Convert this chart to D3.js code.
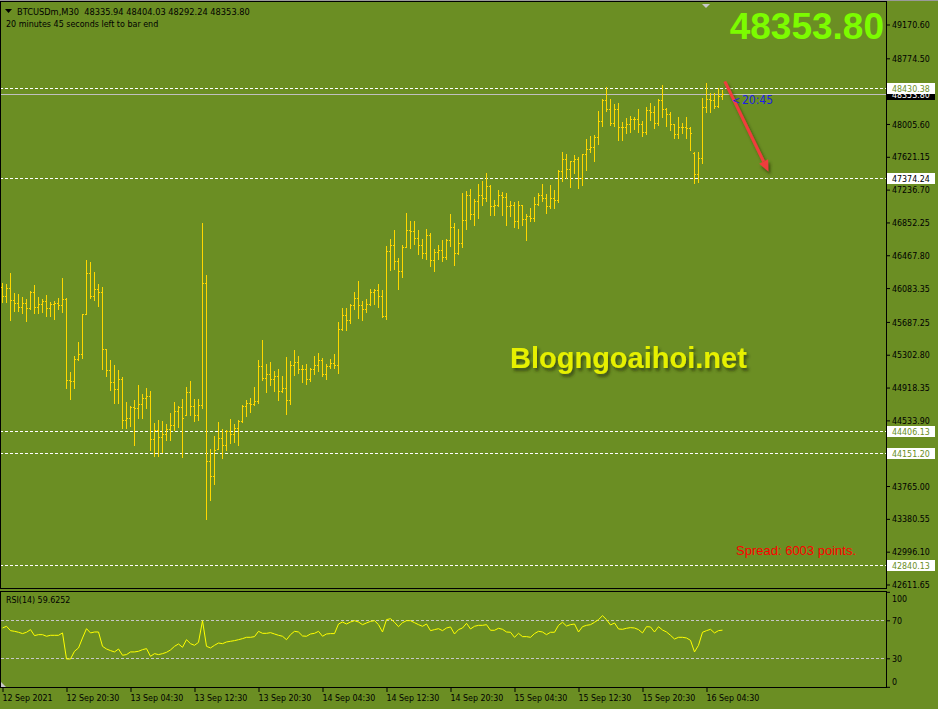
<!DOCTYPE html>
<html>
<head>
<meta charset="utf-8">
<script src="https://cdn.jsdelivr.net/npm/d3@7"></script>
<style>
    body { margin: 0; background: #6b8e23; }
    svg text { font-family: "DejaVu Sans Condensed", "DejaVu Sans", sans-serif; }
</style>
</head>
<body>
<div id="chart"></div>
<script>
// BTCUSDm, M30 - one entry per bar, oldest first (last bar is still open)
var opens = [46100, 45988, 46081, 45941, 45914, 45867, 45906, 45851, 46035, 45867,
    45894, 45929, 45847, 45902, 45906, 45883, 45953, 45005, 44993, 45251,
    45317, 45777, 46257, 45996, 46078, 46035, 45372, 45126, 44982, 44904,
    45017, 44537, 44560, 44685, 44674, 44724, 44794, 44822, 44315, 44424,
    44338, 44373, 44432, 44479, 44642, 44685, 44600, 44861, 44705, 44596,
    44713, 46140, 44057, 43882, 44198, 44323, 44241, 44404, 44377, 44443,
    44529, 44701, 44736, 44724, 44759, 45173, 45028, 45075, 45017, 45052,
    44880, 44911, 44771, 45177, 45223, 45134, 45134, 45021, 45138, 45181,
    45240, 45080, 45165, 45204, 45181, 45602, 45770, 45708, 45891, 45965,
    45883, 45836, 45895, 46035, 46059, 45988, 45758, 46519, 46585, 46402,
    46281, 46566, 46761, 46749, 46667, 46585, 46492, 46702, 46410, 46503,
    46527, 46445, 46644, 46796, 46495, 46609, 46883, 47172, 46949, 47101,
    47172, 47144, 47281, 47043, 47062, 47179, 47152, 47047, 47055, 46864,
    47055, 46891, 46930, 46910, 47066, 47172, 47140, 47043, 47140, 47117,
    47456, 47593, 47480, 47573, 47593, 47370, 47651, 47709, 47737, 47850,
    48045, 48290, 48177, 48014, 48177, 47967, 47967, 48010, 48068, 48068,
    48002, 47908, 48166, 48146, 48014, 48287, 48177, 48119, 48002, 47889,
    47975, 47975, 47955, 47660, 47417, 47604, 48201, 48294, 48287, 48220,
    48335.94];
var highs = [46140, 46128, 46257, 46023, 46011, 45976, 45953, 46050, 46117, 45976,
    45953, 46000, 45918, 45929, 45964, 46198, 45964, 45099, 45286, 45450,
    45777, 46409, 46386, 46273, 46132, 46093, 45372, 45243, 45184, 45126,
    45044, 44752, 44701, 44775, 44950, 44845, 44915, 44880, 44502, 44541,
    44529, 44494, 44623, 44752, 44697, 44783, 44927, 44997, 44787, 44787,
    46842, 46234, 44202, 44354, 44518, 44436, 44424, 44553, 44494, 44541,
    44716, 44775, 44798, 44927, 45243, 45477, 45196, 45220, 45110, 45138,
    45056, 45278, 45231, 45360, 45290, 45185, 45197, 45150, 45290, 45325,
    45267, 45197, 45255, 45314, 45688, 45852, 45852, 45899, 46039, 46168,
    45934, 45957, 46078, 46078, 46133, 46063, 46577, 46659, 46764, 46437,
    46589, 46963, 46870, 46870, 46764, 46659, 46776, 46729, 46542, 46589,
    46648, 46659, 46952, 46846, 46776, 47199, 47222, 47246, 47129, 47304,
    47339, 47433, 47292, 47117, 47234, 47211, 47199, 47105, 47094, 47105,
    47062, 46953, 47023, 47152, 47199, 47304, 47187, 47292, 47234, 47468,
    47679, 47655, 47577, 47643, 47620, 47655, 47830, 47865, 47877, 48162,
    48298, 48435, 48298, 48240, 48255, 48033, 48080, 48099, 48092, 48177,
    48045, 48201, 48251, 48220, 48298, 48462, 48189, 48150, 48006, 48088,
    48014, 48088, 47971, 47674, 47674, 48314, 48482, 48365, 48365, 48431,
    48404.03];
var lows = [45925, 45925, 45711, 45820, 45820, 45797, 45703, 45836, 45797, 45797,
    45801, 45762, 45762, 45727, 45844, 45808, 44908, 44779, 44908, 45239,
    45259, 45777, 45972, 45945, 45879, 45130, 45048, 44884, 44732, 44736,
    44440, 44440, 44471, 44241, 44557, 44557, 44674, 44190, 44112, 44112,
    44167, 44307, 44299, 44424, 44451, 44100, 44600, 44600, 44521, 44533,
    44674, 43375, 43597, 43784, 44198, 44092, 44182, 44268, 44276, 44248,
    44514, 44580, 44627, 44709, 44732, 45009, 44872, 44943, 44880, 44767,
    44872, 44603, 44720, 45071, 45087, 44978, 44959, 44990, 45072, 45115,
    45048, 45017, 45146, 45142, 45084, 45587, 45587, 45680, 45844, 45735,
    45715, 45809, 45887, 45895, 45860, 45739, 45727, 46300, 46312, 46078,
    46218, 46562, 46554, 46605, 46488, 46437, 46421, 46347, 46289, 46429,
    46406, 46429, 46581, 46359, 46480, 46567, 46770, 46887, 46828, 46910,
    47062, 47105, 46945, 46945, 47039, 46934, 46817, 46922, 46793, 46782,
    46828, 46641, 46864, 46864, 47062, 47109, 46957, 47016, 47016, 47086,
    47343, 47378, 47273, 47437, 47250, 47285, 47467, 47682, 47573, 47772,
    47982, 48162, 47994, 47986, 47815, 47815, 47900, 47916, 47951, 47916,
    47865, 47885, 48056, 47963, 47990, 48092, 47986, 47932, 47842, 47838,
    47900, 47838, 47702, 47319, 47331, 47553, 48142, 48142, 48189, 48209,
    48292.24];
var closes = [45988, 46081, 45941, 45914, 45867, 45906, 45851, 46035, 45867, 45894,
    45929, 45847, 45902, 45906, 45883, 45953, 45005, 44993, 45251, 45317,
    45777, 46257, 45996, 46078, 46035, 45372, 45126, 44982, 44904, 45017,
    44537, 44560, 44685, 44674, 44724, 44794, 44822, 44315, 44424, 44338,
    44373, 44432, 44479, 44642, 44685, 44560, 44861, 44705, 44596, 44713,
    46140, 44057, 43882, 44190, 44323, 44241, 44404, 44377, 44443, 44529,
    44701, 44736, 44724, 44759, 45173, 45028, 45075, 45017, 45052, 44880,
    44911, 44771, 45177, 45223, 45134, 45134, 45021, 45138, 45181, 45240,
    45080, 45165, 45204, 45181, 45602, 45770, 45708, 45891, 45965, 45883,
    45836, 45895, 46035, 46059, 45988, 45758, 46519, 46585, 46402, 46281,
    46566, 46761, 46749, 46667, 46585, 46492, 46702, 46410, 46503, 46527,
    46445, 46644, 46796, 46495, 46609, 46883, 47172, 46949, 47101, 47172,
    47144, 47281, 47043, 47062, 47179, 47152, 47047, 47055, 46864, 47055,
    46891, 46930, 46910, 47066, 47172, 47140, 47043, 47140, 47117, 47456,
    47593, 47480, 47573, 47593, 47370, 47651, 47709, 47737, 47850, 48045,
    48290, 48177, 48014, 48177, 47967, 47967, 48010, 48068, 48068, 48002,
    47908, 48166, 48146, 48014, 48287, 48177, 48119, 48002, 47889, 47975,
    47975, 47955, 47897, 47417, 47604, 48201, 48294, 48287, 48220, 48337,
    48353.80];
var rsi14 = [61.9, 63.7, 59.1, 58.4, 57.4, 56.0, 57.4, 60.2, 53.9, 54.9,
    54.9, 53.2, 54.2, 54.2, 54.2, 56.7, 29.3, 29.3, 37.4, 40.9,
    51.4, 61.2, 56.7, 57.7, 57.7, 42.6, 39.8, 38.1, 36.7, 39.8,
    33.2, 33.9, 36.7, 36.7, 37.4, 39.1, 40.2, 32.1, 34.9, 33.9,
    34.9, 36.3, 38.8, 42.6, 45.1, 41.6, 49.6, 45.4, 43.7, 46.8,
    69.6, 42.6, 40.9, 43.7, 46.1, 45.4, 47.2, 47.9, 48.6, 49.6,
    50.7, 52.1, 52.1, 52.8, 58.4, 56.3, 56.3, 57.0, 55.6, 54.2,
    53.2, 49.6, 54.9, 58.4, 57.7, 53.5, 53.2, 55.6, 56.3, 58.4,
    53.2, 55.6, 56.0, 56.0, 66.1, 68.2, 66.1, 68.2, 69.6, 68.2,
    65.4, 67.2, 68.9, 69.6, 65.4, 57.7, 70.7, 71.7, 67.9, 63.3,
    67.5, 69.6, 69.6, 67.5, 65.4, 63.7, 66.1, 59.1, 60.2, 61.2,
    59.1, 61.9, 63.0, 55.6, 60.2, 61.9, 66.8, 60.9, 63.7, 64.7,
    64.7, 65.4, 59.5, 59.5, 61.6, 60.5, 57.7, 57.4, 52.1, 56.3,
    52.8, 52.8, 52.1, 56.0, 58.4, 57.7, 54.9, 57.4, 57.4, 64.7,
    67.9, 64.0, 65.4, 66.1, 57.7, 63.3, 64.7, 65.4, 67.9, 70.7,
    74.9, 70.7, 65.1, 67.2, 60.9, 60.5, 61.6, 62.3, 61.9, 60.2,
    56.7, 63.3, 63.0, 57.7, 63.3, 59.8, 57.7, 54.2, 50.3, 52.1,
    52.1, 51.4, 48.9, 36.7, 43.7, 57.4, 59.1, 60.5, 56.7, 59.1,
    59.6252];

var priceTicks = [49170.60, 48774.50, 48005.60, 47621.15, 47236.70, 46852.25, 46467.80,
    46083.35, 45687.25, 45302.80, 44918.35, 44533.90, 43765.00, 43380.55, 42996.10, 42611.65];
var levelLines = [48430.38, 47374.24, 44406.13, 44151.20, 42840.13];
var timeTickBars = [0, 16, 32, 48, 64, 80, 96, 112, 128, 144, 160, 176];
var timeTickLabels = ["12 Sep 2021", "12 Sep 20:30", "13 Sep 04:30", "13 Sep 12:30", "13 Sep 20:30",
    "14 Sep 04:30", "14 Sep 12:30", "14 Sep 20:30", "15 Sep 04:30", "15 Sep 12:30",
    "15 Sep 20:30", "16 Sep 04:30"];
var rsiTicks = [100, 70, 30, 0];
var rsiLevels = [70, 30];

function drawChart() {

    var width = 938, height = 709;
    var plotRight = 886;
    var mainTop = 1, mainBottom = 589;
    var rsiTop = 591, rsiBottom = 688;
    var last = closes.length - 1;

    var svg = d3.select("#chart").append("svg")
        .attr("width", width)
        .attr("height", height)
        .style("display", "block")
        .style("background", "#6b8e23");

    var defs = svg.append("defs");
    defs.append("filter").attr("id", "shadow")
        .attr("x", "-20%").attr("y", "-20%").attr("width", "140%").attr("height", "160%")
        .append("feDropShadow")
        .attr("dx", 2).attr("dy", 3).attr("stdDeviation", 1.6)
        .attr("flood-color", "#2f3a0c").attr("flood-opacity", 0.75);
    defs.append("clipPath").attr("id", "mainClip")
        .append("rect").attr("x", 1).attr("y", mainTop).attr("width", plotRight - 1).attr("height", mainBottom - mainTop);

    // bar index -> x, price -> y
    var x = d3.scaleLinear().domain([0, last]).range([2, 722]);
    var y = d3.scaleLinear().domain([42611.65, 49170.60]).range([584.5, 24.5]);
    var rsiY = d3.scaleLinear().domain([0, 100]).range([686.8, 591.8]);

    var main = svg.append("g").attr("clip-path", "url(#mainClip)");

    // horizontal levels
    main.selectAll(".level").data(levelLines).enter().append("line")
        .attr("x1", 0).attr("x2", plotRight)
        .attr("y1", function(d) { return Math.round(y(d)) + 0.5; })
        .attr("y2", function(d) { return Math.round(y(d)) + 0.5; })
        .style("stroke", "#ffffff")
        .style("stroke-dasharray", "3,2");

    // bid line
    main.append("line")
        .attr("x1", 0).attr("x2", plotRight)
        .attr("y1", Math.round(y(closes[last])) + 0.5)
        .attr("y2", Math.round(y(closes[last])) + 0.5)
        .style("stroke", "#c0c0c0");

    // OHLC bars
    var bar = main.selectAll(".bar").data(d3.range(closes.length)).enter().append("g")
        .attr("class", "bar")
        .style("fill", "#ffd700");
    bar.append("rect")
        .attr("x", function(i) { return Math.round(x(i)); })
        .attr("y", function(i) { return Math.round(y(highs[i])); })
        .attr("width", 1)
        .attr("height", function(i) { return Math.round(y(lows[i])) - Math.round(y(highs[i])) + 1; });
    bar.append("rect")
        .attr("x", function(i) { return Math.round(x(i)) - 1; })
        .attr("y", function(i) { return Math.round(y(opens[i])); })
        .attr("width", 1).attr("height", 1);
    bar.append("rect")
        .attr("x", function(i) { return Math.round(x(i)) + 1; })
        .attr("y", function(i) { return Math.round(y(closes[i])); })
        .attr("width", 1).attr("height", 1);

    // watermark
    svg.append("text")
        .attr("x", 510).attr("y", 368)
        .style("font-family", "'Liberation Sans', Arial, sans-serif")
        .style("font-weight", "bold")
        .style("font-size", "29px")
        .style("fill", "#e6f000")
        .attr("filter", "url(#shadow)")
        .text("Blogngoaihoi.net");

    // red arrow annotation
    var arrowFrom = [180.7, 48505], arrowTo = [191.6, 47450];
    var ax1 = x(arrowFrom[0]), ay1 = y(arrowFrom[1]), ax2 = x(arrowTo[0]), ay2 = y(arrowTo[1]);
    var ang = Math.atan2(ay2 - ay1, ax2 - ax1);
    var headLen = 11, headW = 5;
    var bx = ax2 - headLen * Math.cos(ang), by = ay2 - headLen * Math.sin(ang);
    var arrow = svg.append("g").attr("filter", "url(#shadow)");
    arrow.append("line")
        .attr("x1", ax1).attr("y1", ay1).attr("x2", bx).attr("y2", by)
        .style("stroke", "#f03c3c").style("stroke-width", 3);
    arrow.append("path")
        .attr("d", "M" + ax2 + "," + ay2 +
            "L" + (bx + headW * Math.sin(ang)) + "," + (by - headW * Math.cos(ang)) +
            "L" + (bx - headW * Math.sin(ang)) + "," + (by + headW * Math.cos(ang)) + "Z")
        .style("fill", "#f03c3c");

    // bar countdown
    svg.append("text").attr("x", 732).attr("y", 104)
        .style("font-size", "11px").style("fill", "#1e1ee6").text("<");
    svg.append("text").attr("x", 742).attr("y", 104)
        .style("font-size", "12px").style("fill", "#1e1ee6").text("20:45");

    // big bid
    svg.append("text")
        .attr("x", 884).attr("y", 39)
        .attr("text-anchor", "end")
        .style("font-family", "'Liberation Sans', Arial, sans-serif")
        .style("font-weight", "bold")
        .style("font-size", "37px")
        .style("fill", "#7cfc00")
        .text(d3.format(".2f")(closes[last]));

    svg.append("text")
        .attr("x", 856).attr("y", 555)
        .attr("text-anchor", "end")
        .style("font-family", "'Liberation Sans', Arial, sans-serif")
        .style("font-size", "13px")
        .style("fill", "#ff0000")
        .text("Spread: 6003 points.");

    // header
    svg.append("path").attr("d", "M5,9L12,9L8.5,13Z").style("fill", "#000");
    svg.append("text").attr("x", 17).attr("y", 15)
        .style("font-size", "9.2px").style("fill", "#000")
        .attr("xml:space", "preserve")
        .text("BTCUSDm,M30  " + [opens[last], highs[last], lows[last], closes[last]].map(d3.format(".2f")).join(" "));
    svg.append("text").attr("x", 6).attr("y", 27)
        .style("font-size", "8.9px").style("fill", "#000")
        .text("20 minutes 45 seconds left to bar end");
    svg.append("path").attr("d", "M702,4L710,4L706,8Z").style("fill", "#c8c8c8");

    // price axis
    var yAxis = svg.append("g")
        .attr("transform", "translate(" + plotRight + ",0)")
        .call(d3.axisRight(y).tickValues(priceTicks).tickSize(4).tickPadding(2).tickFormat(d3.format(".2f")));
    yAxis.select(".domain").remove();
    yAxis.selectAll("text").style("font-size", "8.8px").attr("dy", "0.35em");
    yAxis.attr("font-family", null);

    // bid label (partly covered by the line label above it, as in the terminal)
    var bidY = Math.round(y(closes[last]));
    svg.append("rect").attr("x", 887).attr("y", bidY - 5).attr("width", 48).attr("height", 11).style("fill", "#000");
    svg.append("text").attr("x", 892).attr("y", bidY + 3.5)
        .style("font-size", "8.8px").style("fill", "#fff").text(d3.format(".2f")(closes[last]));

    var lab = svg.selectAll(".lvl").data(levelLines).enter().append("g");
    lab.append("rect")
        .attr("x", 887).attr("width", 48).attr("height", 11)
        .attr("y", function(d) { return Math.round(y(d)) - 5; })
        .style("fill", "#fff");
    lab.append("text")
        .attr("x", 892)
        .attr("y", function(d) { return Math.round(y(d)) + 3.5; })
        .style("font-size", "8.8px")
        .style("fill", function(d, i) { return i == 1 ? "#000" : "#6b8e23"; })
        .text(d3.format(".2f"));

    // RSI panel
    var rsiG = svg.append("g");
    rsiG.selectAll(".rl").data(rsiLevels).enter().append("line")
        .attr("x1", 1).attr("x2", plotRight)
        .attr("y1", function(d) { return Math.round(rsiY(d)) + 0.5; })
        .attr("y2", function(d) { return Math.round(rsiY(d)) + 0.5; })
        .style("stroke", "#c8c8c8")
        .style("stroke-dasharray", "3,2");
    rsiG.append("path")
        .datum(rsi14)
        .attr("d", d3.line()
            .x(function(d, i) { return x(i) + 0.5; })
            .y(function(d) { return rsiY(d); }))
        .style("fill", "none")
        .style("stroke", "#ffff00")
        .style("stroke-width", 1);
    svg.append("text").attr("x", 6).attr("y", 603)
        .style("font-size", "8.8px").style("fill", "#000")
        .text("RSI(14) " + d3.format(".4f")(rsi14[last]));

    var rAxis = svg.append("g")
        .attr("transform", "translate(" + plotRight + ",0)")
        .call(d3.axisRight(rsiY).tickValues(rsiTicks).tickSize(4).tickPadding(2));
    rAxis.select(".domain").remove();
    rAxis.selectAll("text").style("font-size", "8.8px")
        .attr("dy", function(d) { return d == 100 ? "1.05em" : d == 0 ? "-0.3em" : "0.35em"; });
    rAxis.attr("font-family", null);

    // time axis
    var tAxis = svg.append("g")
        .attr("transform", "translate(0," + rsiBottom + ")")
        .call(d3.axisBottom(x).tickValues(timeTickBars).tickSize(4).tickFormat(function(d, i) { return timeTickLabels[i]; }));
    tAxis.select(".domain").remove();
    tAxis.selectAll(".tick line").attr("transform", "translate(0.5,0)");
    tAxis.selectAll("text").attr("text-anchor", "start").attr("x", 0).attr("y", 7).attr("dy", "0.71em")
        .style("font-size", "8.8px");
    tAxis.attr("font-family", null);

    // panel frames
    var frame = svg.append("g").style("fill", "none").style("stroke", "#000");
    frame.append("rect").attr("x", 0.5).attr("y", mainTop + 0.5).attr("width", plotRight).attr("height", mainBottom - mainTop - 1);
    frame.append("rect").attr("x", 0.5).attr("y", rsiTop + 0.5).attr("width", plotRight).attr("height", rsiBottom - rsiTop - 1);
    svg.append("line").attr("x1", 0).attr("x2", width).attr("y1", 0.5).attr("y2", 0.5).style("stroke", "#9a9a9a");
    svg.append("path").attr("d", "M1,682L1,687L6,687Z").style("fill", "#c8c8c8");
}

drawChart();
</script>
</body>
</html>
